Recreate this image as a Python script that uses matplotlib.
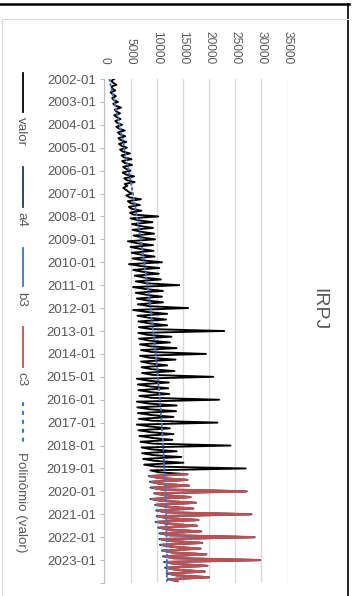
import numpy as np
import matplotlib
matplotlib.use("Agg")
import matplotlib.pyplot as plt
from matplotlib.lines import Line2D

plt.rcParams['font.family'] = ['Liberation Sans', 'DejaVu Sans']

# Monthly IRPJ revenue (valor), 2002-01 .. 2019-04
valor_2002 = [1900, 1300, 1700, 2300, 1400, 1500, 2100, 1200, 1600, 2200, 1500, 1800]
valor_2003 = [2600, 1700, 2200, 3200, 2000, 2300, 3000, 1900, 2400, 3100, 2100, 2500]
valor_2004 = [3400, 2300, 2800, 3900, 2600, 3000, 4000, 2700, 3100, 4200, 2800, 3300]
valor_2005 = [4300, 3000, 3500, 4900, 3300, 3700, 5200, 3400, 3900, 5300, 3600, 4100]
valor_2006 = [5000, 3500, 4100, 5700, 3800, 4300, 5800, 3900, 4400, 3600, 4100, 4600]
valor_2007 = [5200, 4200, 4800, 7000, 4500, 5000, 6800, 4700, 5200, 7100, 4900, 5500]
valor_2008 = [10300, 5000, 6500, 9200, 5300, 6800, 9300, 5400, 7000, 9500, 5600, 7200]
valor_2009 = [9700, 4500, 6200, 9300, 5000, 6800, 9400, 5200, 7000, 9600, 5400, 7300]
valor_2010 = [11000, 4700, 7000, 10500, 5500, 7300, 10400, 5800, 7600, 10800, 6000, 8000]
valor_2011 = [14300, 5500, 7800, 11200, 6000, 8000, 11000, 6200, 8200, 11200, 6400, 8600]
valor_2012 = [16000, 5500, 8000, 12000, 6300, 8400, 11800, 6500, 8600, 12000, 6600, 8800]
valor_2013 = [22900, 6500, 8200, 12800, 6600, 8500, 12500, 6800, 8700, 13800, 7000, 9000]
valor_2014 = [19400, 6800, 8500, 13600, 7000, 8800, 12000, 7100, 9000, 13400, 7200, 9200]
valor_2015 = [20800, 6200, 8300, 12300, 6400, 8600, 12200, 6500, 8800, 12400, 6700, 9000]
valor_2016 = [21900, 6200, 8400, 13800, 6300, 8700, 13700, 6400, 8900, 13200, 6600, 9100]
valor_2017 = [21600, 6200, 8600, 12500, 6500, 8900, 13200, 6700, 9100, 13000, 6900, 9300]
valor_2018 = [24100, 7100, 9000, 13800, 7200, 9300, 14700, 7400, 9500, 15100, 7600, 9800]
valor_2019 = [27000, 8800, 10400, 15800]

# Model series, 2019-04 .. 2023-12
a4_2019 = [15800, 8500, 10300, 15900, 8700, 10600, 16200, 8800, 10800]
a4_2020 = [27200, 9500, 11300, 16500, 8800, 11000, 17500, 9700, 11600, 17000, 9900, 11800]
a4_2021 = [28100, 10000, 11800, 18000, 9800, 12000, 17700, 10300, 12200, 18500, 10500, 12400]
a4_2022 = [28700, 10500, 12600, 18700, 10600, 12700, 18400, 11000, 12900, 19500, 11200, 13100]
a4_2023 = [29750, 11400, 13300, 19700, 11600, 13500, 19200, 11900, 13700, 20000, 12100, 13800]

b3_2019 = [15800, 8750, 10400, 15800, 8950, 10700, 16100, 9050, 10900]
b3_2020 = [27050, 9750, 11400, 16400, 9050, 11100, 17400, 9950, 11700, 16900, 10150, 11900]
b3_2021 = [27950, 10250, 11900, 17900, 10050, 12100, 17600, 10550, 12300, 18400, 10750, 12500]
b3_2022 = [28550, 10750, 12700, 18600, 10900, 12800, 18300, 11250, 13000, 19400, 11450, 13200]
b3_2023 = [29600, 11700, 13400, 19600, 11900, 13600, 19100, 12200, 13800, 19900, 12400, 13900]

c3_2019 = [15800, 9000, 10500, 15700, 9200, 10800, 16000, 9300, 11000]
c3_2020 = [26900, 10000, 11500, 16300, 9300, 11200, 17300, 10200, 11800, 16800, 10400, 12000]
c3_2021 = [27800, 10500, 12000, 17800, 10300, 12200, 17500, 10800, 12400, 18300, 11000, 12600]
c3_2022 = [28400, 11000, 12800, 18500, 11200, 12900, 18200, 11500, 13100, 19300, 11700, 13300]
c3_2023 = [29450, 12000, 13500, 19500, 12200, 13700, 19000, 12500, 13900, 19800, 12700, 14000]

date_labels = ["2002-01", "2003-01", "2004-01", "2005-01", "2006-01", "2007-01",
               "2008-01", "2009-01", "2010-01", "2011-01", "2012-01", "2013-01",
               "2014-01", "2015-01", "2016-01", "2017-01", "2018-01", "2019-01",
               "2020-01", "2021-01", "2022-01", "2023-01"]
value_ticks = [0, 5000, 10000, 15000, 20000, 25000, 30000, 35000]
legend_names = ["valor", "a4", "b3", "c3", "Polinômio (valor)"]
title_text = "IRPJ"

valor = np.array(valor_2002 + valor_2003 + valor_2004 + valor_2005 + valor_2006 +
                 valor_2007 + valor_2008 + valor_2009 + valor_2010 + valor_2011 +
                 valor_2012 + valor_2013 + valor_2014 + valor_2015 + valor_2016 +
                 valor_2017 + valor_2018 + valor_2019, dtype=float)
a4 = np.array(a4_2019 + a4_2020 + a4_2021 + a4_2022 + a4_2023, dtype=float)
b3 = np.array(b3_2019 + b3_2020 + b3_2021 + b3_2022 + b3_2023, dtype=float)
c3 = np.array(c3_2019 + c3_2020 + c3_2021 + c3_2022 + c3_2023, dtype=float)

n_total = 264
t_valor = np.arange(len(valor))
t_model = np.arange(n_total - len(c3), n_total)
t_all = np.arange(n_total)

# polynomial trendline of valor, carried forward over the full span
coef = np.polyfit(t_valor, valor, 2)
trend = np.polyval(coef, t_all)

C_BLACK = "#000000"
C_A4 = "#203864"
C_B3 = "#4472C4"
C_C3 = "#C0504D"
C_TXT = "#595959"
C_GRID = "#D9D9D9"

W, H = 354, 596
fig = plt.figure(figsize=(W / 100, H / 100), dpi=100)
fig.patch.set_facecolor("white")

def fx(px):
    return px / W

def fy(py):
    return 1 - py / H

ax_left, ax_right, ax_top, ax_bot = 104.3, 287.7, 79, 583
ax = fig.add_axes([fx(ax_left), fy(ax_bot), (ax_right - ax_left) / W, (ax_bot - ax_top) / H])

ax.plot(valor, t_valor, color=C_BLACK, lw=1.35, zorder=3)
ax.plot(a4, t_model, color=C_A4, lw=1.4, zorder=4)
ax.plot(b3, t_model, color=C_B3, lw=1.4, zorder=5)
ax.plot(c3, t_model, color=C_C3, lw=1.6, zorder=6)
ax.plot(trend, t_all, color=C_B3, lw=1.4, linestyle=(0, (1, 1.6)),
        dash_capstyle="round", zorder=7)

ax.set_xlim(0, 35000)
ax.set_ylim(n_total, 0)

ax.xaxis.tick_top()
ax.set_xticks(value_ticks)
ax.set_xticklabels([str(v) for v in value_ticks])
ax.tick_params(axis="x", length=0, pad=10.8, labelsize=8.6, labelcolor=C_TXT,
               labelrotation=-90)
ax.grid(axis="x", color=C_GRID, lw=1.0, zorder=0)

ax.set_yticks(np.arange(0, n_total + 1, 12))
ax.set_yticklabels(date_labels + [""])
ax.tick_params(axis="y", length=3, width=0.8, color="#BFBFBF", pad=3,
               labelsize=9.6, labelcolor=C_TXT)

for side in ["top", "right", "bottom"]:
    ax.spines[side].set_visible(False)
ax.spines["left"].set_color("#BFBFBF")
ax.spines["left"].set_linewidth(0.8)

# title
fig.text(fx(319), fy(309), title_text, rotation=-90, ha="center", va="center",
         fontsize=14, color=C_TXT)

# legend, running down the left side
leg_x = 23.3
leg_items = [
    (73, 112, C_BLACK, "-", 117),
    (167, 207, C_A4, "-", 212),
    (248, 286, C_B3, "-", 292),
    (327, 367, C_C3, "-", 372),
    (403, 447, C_B3, ":", 452),
]
for (y0, y1, col, ls, ty), name in zip(leg_items, legend_names):
    if ls == ":":
        fig.add_artist(Line2D([fx(leg_x), fx(leg_x)], [fy(y0), fy(y1)], color=col,
                              lw=1.6, linestyle=(0, (1, 3)), dash_capstyle="round"))
    else:
        fig.add_artist(Line2D([fx(leg_x), fx(leg_x)], [fy(y0), fy(y1)], color=col,
                              lw=1.3))
    fig.text(fx(leg_x - 2), fy(ty), name, rotation=-90, rotation_mode="anchor",
             ha="left", va="center", fontsize=9.6, color=C_TXT)

# chart frame
fig.add_artist(Line2D([0, fx(349)], [fy(4), fy(4)], color="black", lw=1.8))
fig.add_artist(Line2D([fx(348), fx(348)], [fy(4), 0], color="black", lw=1.2))
fig.add_artist(Line2D([fx(2), fx(2)], [fy(19), 0], color=C_GRID, lw=0.8))
fig.add_artist(Line2D([fx(2), fx(348)], [fy(19), fy(19)], color=C_GRID, lw=0.8))

fig.savefig("out.png", dpi=100, facecolor="white")
